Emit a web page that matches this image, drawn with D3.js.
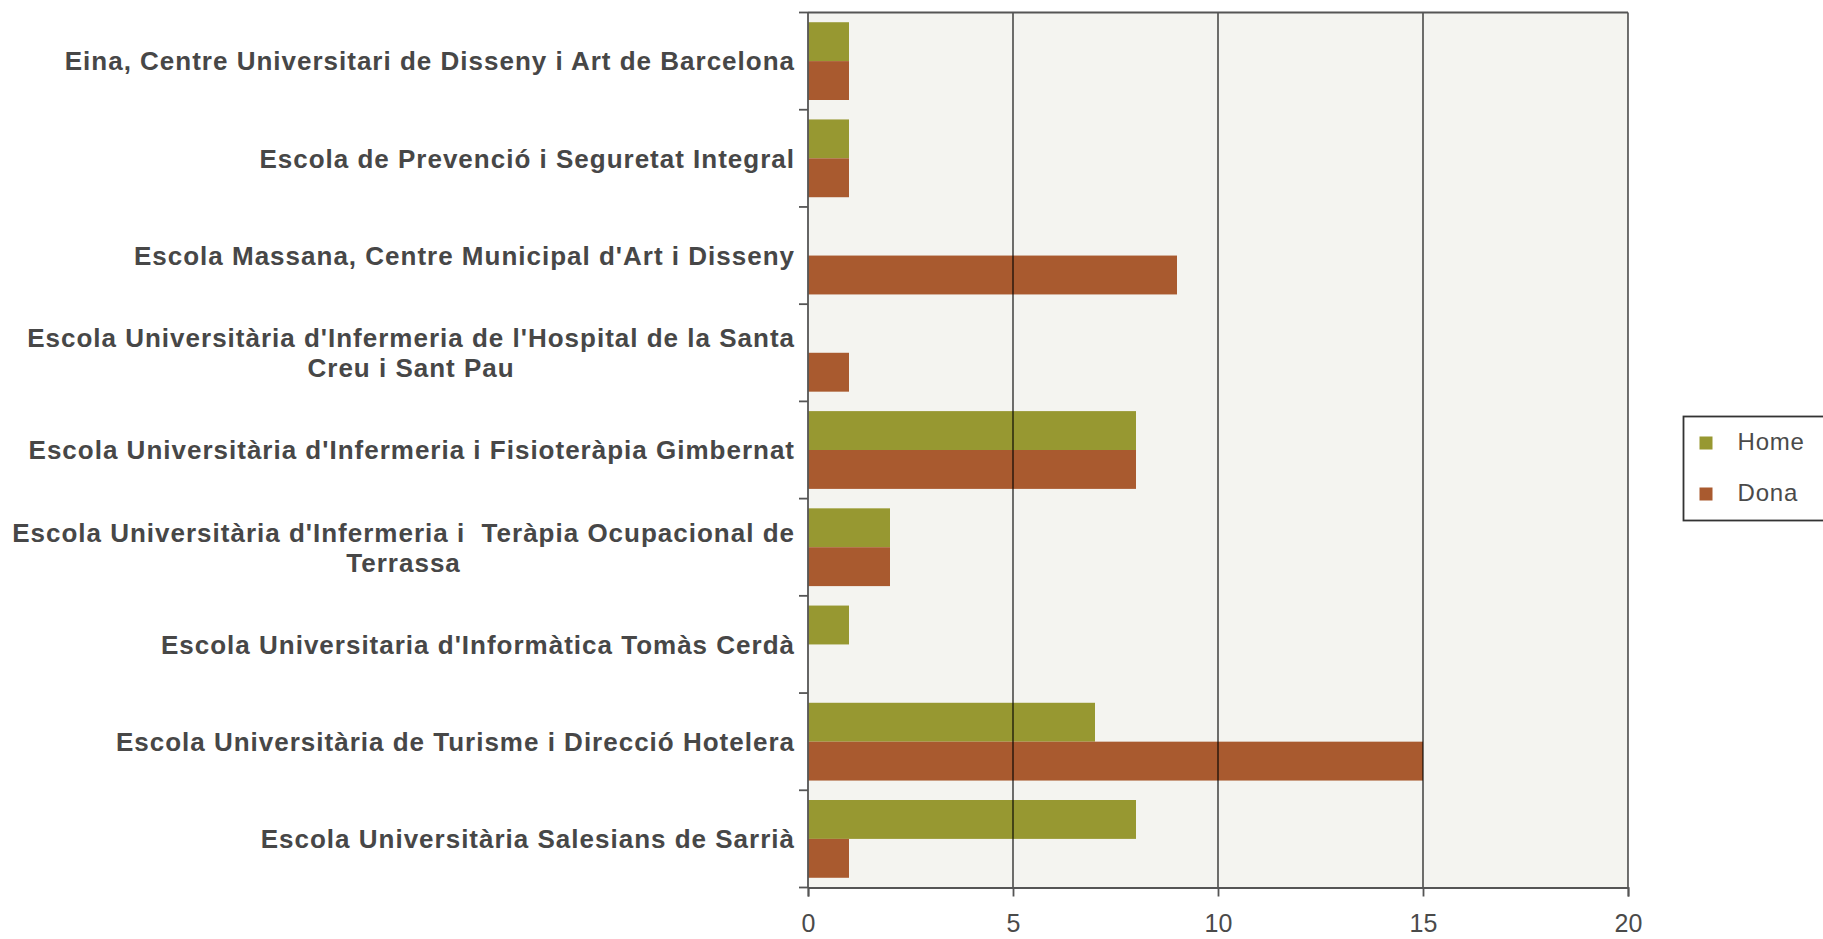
<!DOCTYPE html>
<html>
<head>
<meta charset="utf-8">
<script src="https://cdn.jsdelivr.net/npm/d3@7"></script>
<style>
  body { margin: 0; background: #fff; }
  text { font-family: "Liberation Sans", Arial, sans-serif; }
</style>
</head>
<body>
<div class="chart"></div>
<script>
// data
var categories = [
  "Eina, Centre Universitari de Disseny i Art de Barcelona",
  "Escola de Prevenció i Seguretat Integral",
  "Escola Massana, Centre Municipal d'Art i Disseny",
  "Escola Universitària d'Infermeria de l'Hospital de la Santa Creu i Sant Pau",
  "Escola Universitària d'Infermeria i Fisioteràpia Gimbernat",
  "Escola Universitària d'Infermeria i  Teràpia Ocupacional de Terrassa",
  "Escola Universitaria d'Informàtica Tomàs Cerdà",
  "Escola Universitària de Turisme i Direcció Hotelera",
  "Escola Universitària Salesians de Sarrià"
];
var seriesNames = ["Home", "Dona"];
var homeValues = [1, 1, 0, 0, 8, 2, 1, 7, 8];
var donaValues = [1, 1, 9, 1, 8, 2, 0, 15, 1];
var xTicks = [0, 5, 10, 15, 20];

var colors = { "Home": "#979831", "Dona": "#a95a2f" };

// define margins and area for graph
var svgWidth = 1823;
var svgHeight = 939;
var margin = { top: 12.5, right: 195, bottom: 51.5, left: 808 };
var width = svgWidth - margin.left - margin.right;
var height = svgHeight - margin.top - margin.bottom;

var svg = d3.select(".chart")
  .append("svg")
  .attr("width", svgWidth)
  .attr("height", svgHeight);

var chart = svg.append("g")
  .attr("transform", "translate(" + margin.left + "," + margin.top + ")");

var rows = categories.map(function(c, i) {
  return { name: c, Home: homeValues[i], Dona: donaValues[i] };
});

// scales
var xScale = d3.scaleLinear().domain([0, 20]).range([0, width]);
var yScale = d3.scaleBand().domain(categories).range([0, height])
  .paddingInner(0.2).paddingOuter(0.1);
var ySub = d3.scaleBand().domain(seriesNames).range([0, yScale.bandwidth()]);

// plot background
chart.append("rect")
  .attr("width", width)
  .attr("height", height)
  .attr("fill", "#f4f4f0");

// bars
var groups = chart.selectAll("g.row")
  .data(rows)
  .enter()
  .append("g")
  .attr("class", "row")
  .attr("transform", function(d) { return "translate(0," + yScale(d.name) + ")"; });

groups.selectAll("rect")
  .data(function(d) {
    return seriesNames.map(function(s) { return { key: s, value: d[s] }; });
  })
  .enter()
  .append("rect")
  .attr("x", xScale(0))
  .attr("y", function(d) { return ySub(d.key); })
  .attr("height", ySub.bandwidth())
  .attr("width", function(d) { return xScale(d.value) - xScale(0); })
  .attr("fill", function(d) { return colors[d.key]; });

// vertical grid lines on top of bars
chart.append("g")
  .selectAll("line")
  .data(xTicks.slice(1))
  .enter()
  .append("line")
  .attr("x1", function(d) { return xScale(d); })
  .attr("x2", function(d) { return xScale(d); })
  .attr("y1", 0)
  .attr("y2", height)
  .attr("stroke", "rgba(0,0,0,0.62)")
  .attr("stroke-width", 1.8);

// top frame line
chart.append("line")
  .attr("x1", 0).attr("x2", width)
  .attr("y1", 0).attr("y2", 0)
  .attr("stroke", "#555").attr("stroke-width", 1.8);

// bottom axis
var bottomAxis = d3.axisBottom(xScale).tickValues(xTicks).tickSize(9).tickPadding(18)
  .tickFormat(d3.format("d"));
var xAxisG = chart.append("g")
  .attr("transform", "translate(0," + height + ")")
  .call(bottomAxis);
xAxisG.select(".domain").attr("stroke", "#555").attr("stroke-width", 1.8);
xAxisG.selectAll(".tick line").attr("stroke", "#555").attr("stroke-width", 1.8);
xAxisG.selectAll(".tick text")
  .attr("fill", "#4a4a4a")
  .style("font-size", "25px")
  .style("font-family", "\"Liberation Sans\", Arial, sans-serif");

// left axis: line with ticks at the category boundaries
var boundaries = categories.map(function(c) { return yScale(c) - yScale.step() * yScale.paddingInner() / 2; });
boundaries.push(height);
chart.append("line")
  .attr("x1", 0).attr("x2", 0)
  .attr("y1", 0).attr("y2", height)
  .attr("stroke", "#555").attr("stroke-width", 1.8);
chart.append("g")
  .selectAll("line")
  .data(boundaries)
  .enter()
  .append("line")
  .attr("x1", -9).attr("x2", 0)
  .attr("y1", function(d) { return d; })
  .attr("y2", function(d) { return d; })
  .attr("stroke", "#555").attr("stroke-width", 1.8);

// category labels, wrapped and centred inside a right-aligned block
var labelFont = 26;
var lineHeight = 30;
var maxLabelWidth = 810;
var labelRight = -13;

var labels = chart.append("g")
  .selectAll("text")
  .data(categories)
  .enter()
  .append("text")
  .style("font-size", labelFont + "px")
  .style("font-weight", "bold")
  .style("letter-spacing", "1px")
  .style("white-space", "pre")
  .attr("fill", "#474747");

labels.each(function(name) {
  var t = d3.select(this);
  var words = name.split(" ");
  var lines = [];
  var line = [];
  var probe = t.append("tspan");
  words.forEach(function(w) {
    line.push(w);
    probe.text(line.join(" "));
    if (probe.node().getComputedTextLength() > maxLabelWidth && line.length > 1) {
      line.pop();
      lines.push(line.join(" "));
      line = [w];
    }
  });
  lines.push(line.join(" "));
  probe.remove();

  var widths = lines.map(function(l) {
    var tmp = t.append("tspan").text(l);
    var w = tmp.node().getComputedTextLength();
    tmp.remove();
    return w;
  });
  var blockW = d3.max(widths);
  var cx = labelRight - blockW / 2;
  var cy = yScale(name) + yScale.bandwidth() / 2;
  var y0 = cy - (lines.length - 1) * lineHeight / 2;

  t.attr("text-anchor", "middle");
  lines.forEach(function(l, i) {
    t.append("tspan")
      .attr("x", cx)
      .attr("y", y0 + i * lineHeight)
      .attr("dy", "0.36em")
      .text(l);
  });
});

// legend
var legend = svg.append("g").attr("transform", "translate(1683.5,416.5)");
legend.append("rect")
  .attr("width", 142)
  .attr("height", 104)
  .attr("fill", "#fff")
  .attr("stroke", "#333")
  .attr("stroke-width", 1.8);

var items = legend.selectAll("g.item")
  .data(seriesNames)
  .enter()
  .append("g")
  .attr("class", "item")
  .attr("transform", function(d, i) { return "translate(16," + (20 + i * 51) + ")"; });

items.append("rect")
  .attr("width", 13)
  .attr("height", 13)
  .attr("fill", function(d) { return colors[d]; });

items.append("text")
  .attr("x", 38)
  .attr("y", 13)
  .style("font-size", "24px")
  .style("letter-spacing", "0.8px")
  .attr("fill", "#4a4a4a")
  .text(function(d) { return d; });
</script>
</body>
</html>
